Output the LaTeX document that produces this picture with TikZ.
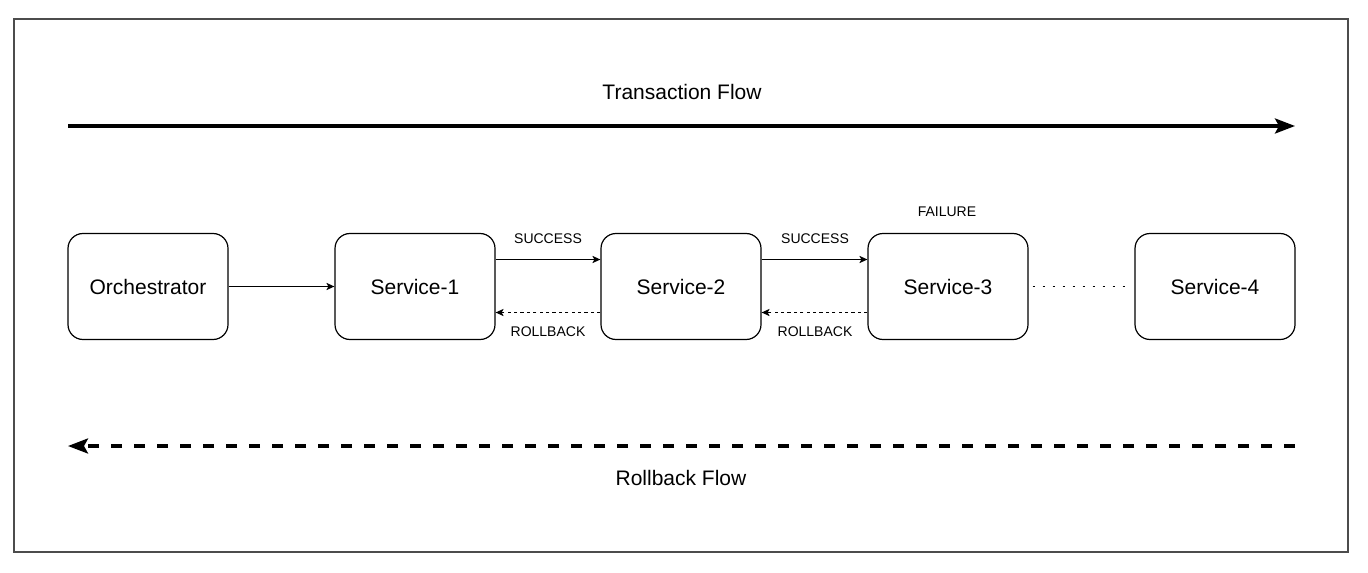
\documentclass[tikz,border=0pt]{standalone}
\usepackage{fontspec}
\setmainfont{Liberation Sans}
\usetikzlibrary{arrows.meta}
\begin{document}
\begin{tikzpicture}[x=0.5pt,y=-0.5pt,
  svc/.style={draw, rounded corners=7.5pt, minimum width=80pt, minimum height=53pt,
    line width=0.6pt, font=\fontsize{10.5}{12}\selectfont},
  lbl/.style={font=\fontsize{7}{8}\selectfont},
  flowlbl/.style={font=\fontsize{10.5}{12}\selectfont},
  tip/.style={-{Stealth[length=4pt,width=3.6pt,inset=1pt]}, line width=0.6pt},
  bigtip/.style={-{Stealth[length=10pt,width=7.5pt,inset=2pt]}, line width=1.6pt}]
\useasboundingbox (0,0) rectangle (1368,572);
\draw [black!70, line width=0.7pt] (14,19) rectangle (1348,552);

\node [svc] (orch) at (148,286.5) {Orchestrator};
\node [svc] (s1) at (415,286.5) {Service-1};
\node [svc] (s2) at (681,286.5) {Service-2};
\node [svc] (s3) at (948,286.5) {Service-3};
\node [svc] (s4) at (1215,286.5) {Service-4};

\coordinate (tfa) at (68,126);
\coordinate (tfb) at (1295,126);
\coordinate (rfa) at (1295,446);
\coordinate (rfb) at (68,446);
\draw [bigtip] (tfa) -- (tfb);
\draw [bigtip, dash pattern=on 5.5pt off 6pt] (rfa) -- (rfb);
\node [flowlbl] (tf) at (682,92) {Transaction Flow};
\node [flowlbl] (rf) at (681,478) {Rollback Flow};

\draw [tip] (orch) -- (s1);
\draw [tip] ([yshift=13.5pt]s1.east) -- ([yshift=13.5pt]s2.west);
\draw [tip] ([yshift=13.5pt]s2.east) -- ([yshift=13.5pt]s3.west);
\draw [tip, dash pattern=on 1.6pt off 1.6pt] ([yshift=-13pt]s2.west) -- ([yshift=-13pt]s1.east);
\draw [tip, dash pattern=on 1.6pt off 1.6pt] ([yshift=-13pt]s3.west) -- ([yshift=-13pt]s2.east);
\draw [line width=0.9pt, dash pattern=on 1pt off 4pt, shorten <=2pt, shorten >=3pt] (s3) -- (s4);

\node [lbl] (ok1) at (548,238.5) {SUCCESS};
\node [lbl] (ok2) at (815,238.5) {SUCCESS};
\node [lbl] (rb1) at (548,332) {ROLLBACK};
\node [lbl] (rb2) at (815,332) {ROLLBACK};
\node [lbl] (fail) at (947,212) {FAILURE};
\end{tikzpicture}
\end{document}
